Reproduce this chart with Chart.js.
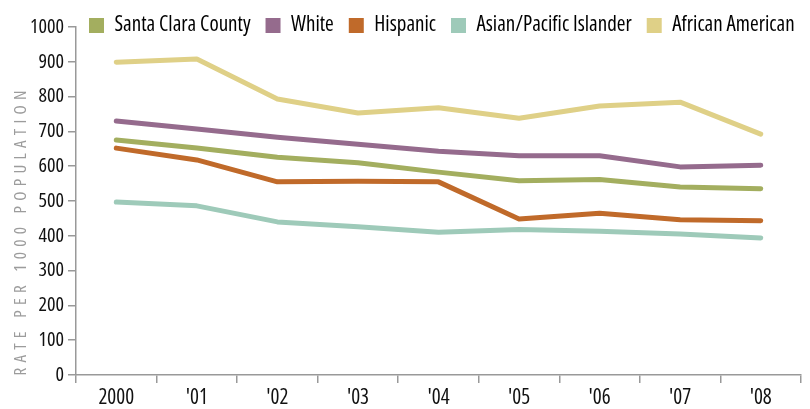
<!DOCTYPE html>
<html>
<head>
<meta charset="utf-8">
<script src="https://cdn.jsdelivr.net/npm/chart.js@4/dist/chart.umd.min.js"></script>
<style>
html,body{margin:0;padding:0;background:#fff;}
#wrap{position:relative;width:810px;height:409px;}
</style>
</head>
<body>
<div id="wrap"><canvas id="c" width="810" height="409"></canvas></div>
<script>
const years = ["2000", "'01", "'02", "'03", "'04", "'05", "'06", "'07", "'08"];
const santaClara = [675, 652, 626, 610, 583, 558, 562, 540, 535];
const white = [730, 707, 683, 663, 643, 630, 630, 598, 603];
const hispanic = [652, 618, 555, 557, 555, 448, 465, 446, 443];
const asianPI = [497, 486, 440, 426, 410, 418, 413, 405, 394];
const africanAm = [899, 908, 793, 753, 768, 738, 773, 784, 692];
const yTicks = [0, 100, 200, 300, 400, 500, 600, 700, 800, 900, 1000];
const seriesNames = ["Santa Clara County", "White", "Hispanic", "Asian/Pacific Islander", "African American"];
const seriesColors = ["#a3ae5f", "#956b8d", "#c06a2a", "#9ecab9", "#dfd087"];
const yTitle = "RATE PER 1000 POPULATION";

const FAMILY = "'Open Sans', 'Roboto', sans-serif";
Chart.defaults.font.family = FAMILY;
Chart.defaults.color = '#111';

const seriesData = [santaClara, white, hispanic, asianPI, africanAm];
const datasets = seriesNames.map((n, i) => ({
  label: n,
  data: seriesData[i],
  borderColor: seriesColors[i],
  backgroundColor: seriesColors[i],
  borderWidth: 5,
  pointRadius: 0,
  tension: 0,
  borderCapStyle: 'round',
  borderJoinStyle: 'round',
  fill: false
}));

const layoutFix = {
  id: 'layoutFix',
  afterLayout(chart) {
    const lg = chart.legend;
    if (lg) {
      const w = lg.width;
      lg.left = 74; lg.right = 74 + w;
      lg.top = 0; lg.bottom = lg.top + 45;
    }
  }
};

const yTitlePlugin = {
  id: 'yTitlePlugin',
  afterDraw(chart) {
    const ctx = chart.ctx;
    ctx.save();
    ctx.translate(21, 233);
    ctx.rotate(-Math.PI / 2);
    ctx.font = "400 condensed 17px " + FAMILY;
    ctx.fillStyle = '#9c9c9c';
    ctx.textAlign = 'center';
    ctx.textBaseline = 'middle';
    const w0 = ctx.measureText(yTitle).width;
    const ls = (285 - w0) / (yTitle.length - 1);
    ctx.letterSpacing = ls.toFixed(2) + 'px';
    ctx.fillText(yTitle, ls / 2, 0);
    ctx.restore();
  }
};

new Chart(document.getElementById('c'), {
  type: 'line',
  data: { labels: years, datasets },
  options: {
    responsive: false,
    animation: false,
    devicePixelRatio: 1,
    layout: { padding: { left: 0, right: 9, top: 0, bottom: 0 } },
    plugins: {
      tooltip: { enabled: false },
      legend: {
        position: 'top',
        align: 'start',
        maxHeight: 27,
        labels: {
          boxWidth: 15,
          boxHeight: 15,
          padding: 15,
          color: '#111',
          font: { size: 21, weight: '500 condensed' },
          generateLabels(chart) {
            return chart.data.datasets.map((d, i) => ({
              text: d.label,
              fillStyle: d.borderColor,
              strokeStyle: d.borderColor,
              lineWidth: 0,
              hidden: false,
              datasetIndex: i
            }));
          }
        }
      }
    },
    scales: {
      x: {
        offset: true,
        afterFit(s) { s.height = 34; },
        grid: { offset: true, drawOnChartArea: false, drawTicks: true, tickLength: 8, color: '#999', lineWidth: 1.5 },
        border: { display: true, color: '#999', width: 1.5 },
        ticks: { color: '#111', font: { size: 21, weight: '500 condensed' }, padding: 2, maxRotation: 0, autoSkip: false }
      },
      y: {
        min: 0, max: 1000,
        afterFit(s) { s.width = 76; },
        afterBuildTicks(s) { s.ticks = yTicks.map(v => ({ value: v })); },
        grid: { drawOnChartArea: false, drawTicks: true, tickLength: 8, color: '#999', lineWidth: 1.5 },
        border: { display: true, color: '#999', width: 1.5 },
        ticks: { color: '#111', font: { size: 20, weight: '500 condensed' }, padding: 4, callback: (v) => String(v) }
      }
    }
  },
  plugins: [layoutFix, yTitlePlugin]
});
</script>
</body>
</html>
